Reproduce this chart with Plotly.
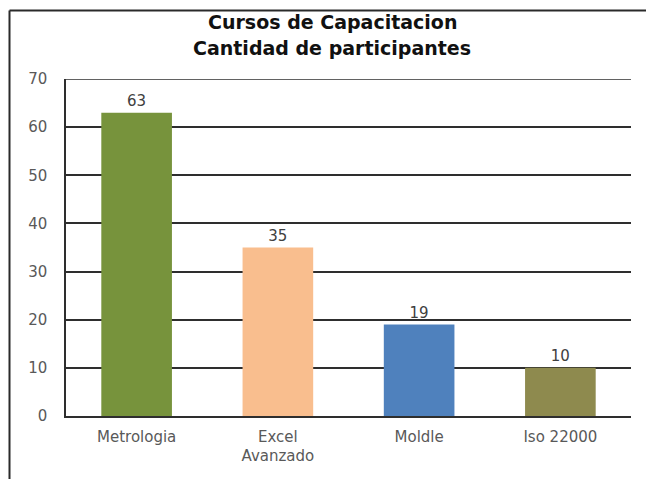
import plotly.graph_objects as go

categories = ["Metrologia", "Excel<br>Avanzado", "Moldle", "Iso 22000"]
values = [63, 35, 19, 10]
colors = ["#77933C", "#F9BE8E", "#4F81BD", "#8E8A4E"]
y_ticks = [0, 10, 20, 30, 40, 50, 60, 70]
title_lines = ["Cursos de Capacitacion", "Cantidad de participantes"]

FONT = "DejaVu Sans"
GRID = "#2e2e2e"
fig = go.Figure(go.Bar(
    x=categories, y=values,
    marker=dict(color=colors, line=dict(width=0)),
    text=values, textposition="outside",
    textfont=dict(family=FONT, size=15, color="#404040"),
    cliponaxis=False,
))

fig.update_layout(
    width=646, height=479,
    margin=dict(l=66, r=15, t=79, b=63),
    paper_bgcolor="white", plot_bgcolor="white",
    bargap=0.5,
    showlegend=False,
    font=dict(family=FONT, color="#595959", size=15),
)
# two-line bold title
for i, line in enumerate(title_lines):
    fig.add_annotation(
        text=f"<b>{line}</b>", xref="paper", yref="paper",
        x=(332 - 66) / 565, y=(416 - (22 + 26 * i)) / 337,
        xanchor="center", yanchor="middle", showarrow=False,
        font=dict(family=FONT, size=19, color="#111111"),
    )
fig.update_yaxes(
    range=[0, 70], tickvals=y_ticks, showgrid=True, gridcolor=GRID, gridwidth=1.5,
    showline=True, linecolor=GRID, linewidth=1.5, ticks="", zeroline=False,
    tickfont=dict(family=FONT, size=15, color="#595959"), ticklabelstandoff=14,
)
fig.update_xaxes(
    showline=True, linecolor=GRID, linewidth=1.5, ticks="",
    tickfont=dict(family=FONT, size=15, color="#595959"), ticklabelstandoff=6,
)
# top gridline at the axis maximum
fig.add_shape(type="line", xref="paper", yref="y", x0=0, x1=1, y0=y_ticks[-1], y1=y_ticks[-1],
              line=dict(color=GRID, width=1.5), layer="below")
# outer chart border (top and left)
top_y = (416 - 10.5) / 337
left_x = (9.5 - 66) / 565
fig.add_shape(type="line", xref="paper", yref="paper", x0=left_x, x1=1.05,
              y0=top_y, y1=top_y, line=dict(color="#2a2a2a", width=2))
fig.add_shape(type="line", xref="paper", yref="paper", x0=left_x, x1=left_x,
              y0=top_y, y1=-0.2, line=dict(color="#2a2a2a", width=2))

fig.write_html("out.html", config={"displayModeBar": False},
               post_script="document.body.style.margin='0';document.body.style.overflow='hidden';")
